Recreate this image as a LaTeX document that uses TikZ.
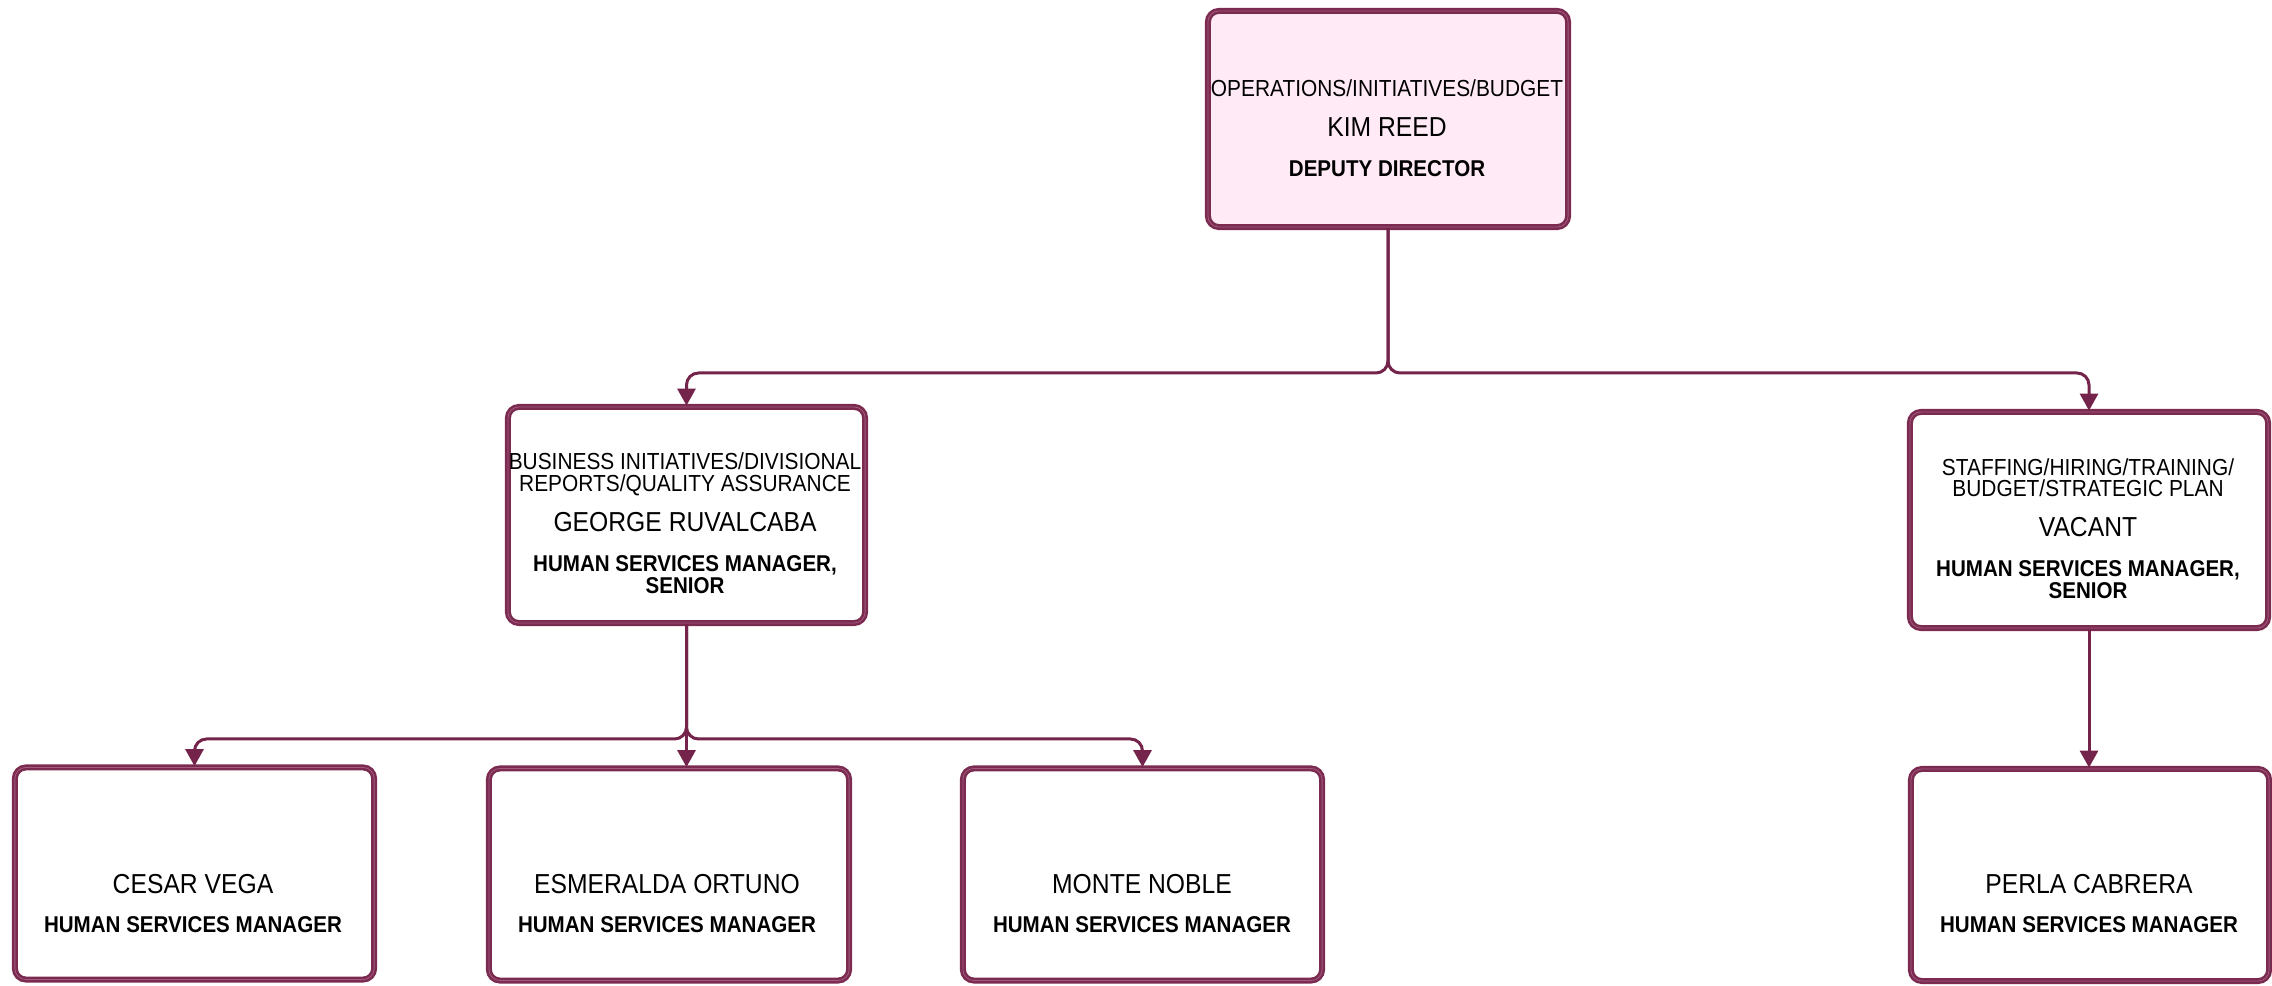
\documentclass[tikz,border=0pt]{standalone}
\usepackage{fontspec}
\setmainfont{Liberation Sans}[FakeStretch=0.9]
\usetikzlibrary{arrows.meta}
\definecolor{bord}{HTML}{7A2B4F}
\definecolor{bordlt}{HTML}{A35A7D}
\definecolor{conncol}{HTML}{74244A}
\definecolor{pinkfill}{HTML}{FFEAF6}
\tikzset{
  orgbox/.style={draw=bord, double=bordlt, double distance=0.008cm, line width=0.026cm,
    rounded corners=0.11cm, fill=white, inner sep=0pt},
  link/.style={draw=conncol, line width=0.03cm, rounded corners=0.12cm,
    -{Triangle[width=0.18cm,length=0.17cm]}},
  dept/.style={anchor=base, inner sep=0pt, font=\fontsize{6.6}{6.26}\selectfont},
  nm/.style={anchor=base, inner sep=0pt, font=\fontsize{7.8}{9}\selectfont},
  ttl/.style={anchor=base, inner sep=0pt, font=\bfseries\fontsize{6.5}{6.26}\selectfont},
}
\begin{document}
\begin{tikzpicture}[x=0.01cm,y=-0.01cm]
\useasboundingbox (0,0) rectangle (2272,986);
% boxes
\node[orgbox, fill=pinkfill, minimum width=3.60cm, minimum height=2.16cm] (top) at (1388,119) {};
\node[orgbox, minimum width=3.57cm, minimum height=2.16cm] (george) at (686.5,515) {};
\node[orgbox, minimum width=3.58cm, minimum height=2.16cm] (vacant) at (2089,520) {};
\node[orgbox, minimum width=3.59cm, minimum height=2.12cm] (cesar) at (194.5,873.5) {};
\node[orgbox, minimum width=3.60cm, minimum height=2.12cm] (esm) at (669,874.5) {};
\node[orgbox, minimum width=3.59cm, minimum height=2.12cm] (monte) at (1142.5,874.5) {};
\node[orgbox, minimum width=3.58cm, minimum height=2.12cm] (perla) at (2090,875) {};
% texts
\node[dept] (topdept) at (1387,97) {OPERATIONS/INITIATIVES/BUDGET};
\node[nm] (topname) at (1387,137) {KIM REED};
\node[ttl] (toptitle) at (1387,177) {DEPUTY DIRECTOR};

\node[dept] (gdept1) at (685,470) {BUSINESS INITIATIVES/DIVISIONAL};
\node[dept] (gdept2) at (685,492) {REPORTS/QUALITY ASSURANCE};
\node[nm] (gname) at (685,532) {GEORGE RUVALCABA};
\node[ttl] (gtitle1) at (685,572) {HUMAN SERVICES MANAGER,};
\node[ttl] (gtitle2) at (685,594) {SENIOR};

\node[dept] (vdept1) at (2088,476) {STAFFING/HIRING/TRAINING/};
\node[dept] (vdept2) at (2088,497) {BUDGET/STRATEGIC PLAN};
\node[nm] (vname) at (2088,537) {VACANT};
\node[ttl] (vtitle1) at (2088,577) {HUMAN SERVICES MANAGER,};
\node[ttl] (vtitle2) at (2088,599) {SENIOR};

\node[nm] (cname) at (193,894) {CESAR VEGA};
\node[ttl] (ctitle) at (193,933) {HUMAN SERVICES MANAGER};
\node[nm] (ename) at (667,894) {ESMERALDA ORTUNO};
\node[ttl] (etitle) at (667,933) {HUMAN SERVICES MANAGER};
\node[nm] (mname) at (1142,894) {MONTE NOBLE};
\node[ttl] (mtitle) at (1142,933) {HUMAN SERVICES MANAGER};
\node[nm] (pname) at (2089,894) {PERLA CABRERA};
\node[ttl] (ptitle) at (2089,933) {HUMAN SERVICES MANAGER};
% connectors
\coordinate (j1) at (top.south |- 0,373);
\draw[link] (top.south) -- (j1) -| (george.north);
\draw[link] (top.south) -- (j1) -| (vacant.north);
\coordinate (j2) at (george.south |- 0,739);
\draw[link] (george.south) -- (j2) -| (cesar.north);
\draw[link] (george.south) -- (j2) -| (monte.north);
\draw[link] (george.south) -- (george.south |- esm.north);
\draw[link] (vacant.south) -- (vacant.south |- perla.north);
\end{tikzpicture}
\end{document}
